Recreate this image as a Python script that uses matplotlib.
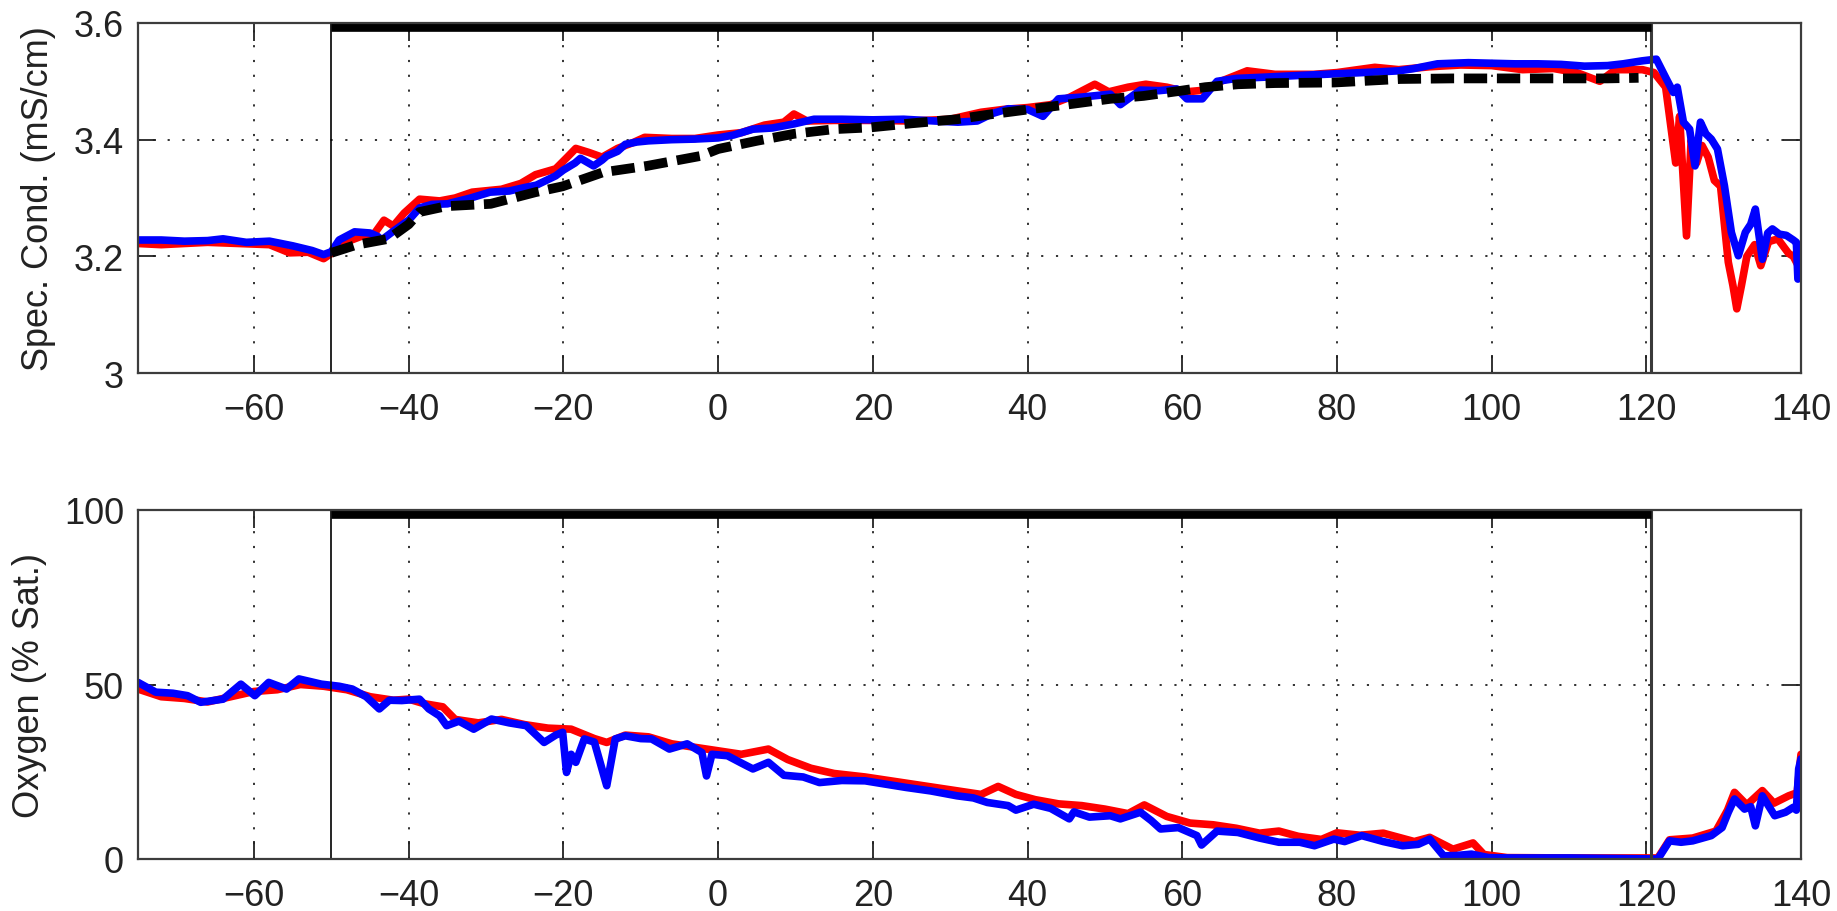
"""
Two-panel time series: specific conductance (top) and oxygen saturation (bottom).
Values read off the reference figure.
"""
import matplotlib
matplotlib.use('Agg')
import matplotlib.pyplot as plt

plt.rcParams['font.family'] = ['Liberation Sans', 'DejaVu Sans']

# ── Data: specific conductance (mS/cm) ───────────────────────────────────────
cond_blue_x = [-75, -72, -69, -66, -64, -61, -58, -55, -52.5, -51,
               -50, -49, -47, -45, -44, -43.5, -42, -40, -38.6, -37,
               -35, -32, -29.5, -27, -25, -23.5, -21, -20, -18.5, -17.8,
               -16.1, -15, -14.4, -13, -12, -10.5, -9, -6, -3, 0,
               2, 4.5, 7, 9.8, 12.4, 16, 20, 24, 28, 31,
               33.5, 35.5, 37.5, 40, 42, 44, 47, 50.7, 52, 54.6,
               57, 59.3, 60.6, 62.6, 64.5, 67, 70.4, 75, 80, 85,
               88, 90, 93, 97, 100, 103, 106, 109, 112, 115,
               117, 119.4, 121.3, 122.6, 123.5, 124, 124.8, 125.6, 126.3, 127,
               127.7, 128.4, 129.2, 130.1, 131, 131.9, 132.8, 133.5, 134.1, 135,
               135.7, 136.3, 137.2, 138.1, 139, 139.4, 139.6, 140]
cond_blue = [3.228, 3.228, 3.226, 3.227, 3.230, 3.224, 3.226, 3.218, 3.210, 3.203,
             3.208, 3.228, 3.242, 3.240, 3.234, 3.228, 3.243, 3.262, 3.283, 3.289,
             3.290, 3.300, 3.310, 3.312, 3.318, 3.322, 3.338, 3.348, 3.360, 3.368,
             3.355, 3.365, 3.372, 3.380, 3.392, 3.396, 3.398, 3.400, 3.401, 3.403,
             3.408, 3.418, 3.420, 3.427, 3.435, 3.435, 3.434, 3.435, 3.432, 3.430,
             3.432, 3.445, 3.453, 3.452, 3.440, 3.470, 3.473, 3.478, 3.460, 3.485,
             3.484, 3.487, 3.470, 3.470, 3.500, 3.505, 3.507, 3.510, 3.513, 3.516,
             3.518, 3.522, 3.530, 3.532, 3.531, 3.530, 3.530, 3.529, 3.526, 3.527,
             3.530, 3.535, 3.538, 3.504, 3.481, 3.490, 3.430, 3.418, 3.355, 3.430,
             3.410, 3.401, 3.384, 3.321, 3.241, 3.201, 3.241, 3.255, 3.281, 3.195,
             3.240, 3.247, 3.238, 3.236, 3.228, 3.224, 3.161, 3.165]

cond_red_x = [-75, -72, -69, -66, -62, -58, -55.4, -53, -51, -50,
              -48, -46, -44.5, -43.2, -42, -40.6, -38.6, -36, -34, -31.8,
              -28, -25.5, -23.6, -21, -19.5, -18.4, -16.7, -15, -13, -11,
              -9.5, -6, -3, 0, 3, 6, 8.5, 9.8, 11.5, 15,
              20, 25, 30, 34, 37, 40, 43, 45.5, 48.7, 50.5,
              53, 55.3, 58, 60.5, 63, 65, 68.4, 72, 77, 80,
              84.9, 88, 92, 96, 100, 104, 108, 111, 114, 116,
              119.5, 121, 122.5, 123.8, 124.3, 125.2, 125.8, 126.5, 127.2, 128,
              128.8, 129.6, 130.6, 131.2, 131.7, 132.3, 133, 134, 134.8, 135.8,
              137, 138.4, 139, 139.8, 140]
cond_red = [3.222, 3.220, 3.222, 3.224, 3.222, 3.220, 3.206, 3.207, 3.196, 3.205,
            3.225, 3.235, 3.238, 3.262, 3.252, 3.274, 3.298, 3.295, 3.300, 3.310,
            3.315, 3.325, 3.340, 3.350, 3.370, 3.385, 3.378, 3.370, 3.385, 3.395,
            3.404, 3.402, 3.402, 3.408, 3.412, 3.425, 3.430, 3.444, 3.432, 3.433,
            3.433, 3.432, 3.435, 3.447, 3.452, 3.455, 3.460, 3.473, 3.495, 3.482,
            3.490, 3.495, 3.490, 3.482, 3.485, 3.500, 3.518, 3.512, 3.512, 3.515,
            3.524, 3.520, 3.525, 3.528, 3.527, 3.520, 3.522, 3.515, 3.500, 3.520,
            3.520, 3.515, 3.490, 3.360, 3.440, 3.235, 3.400, 3.360, 3.390, 3.370,
            3.330, 3.320, 3.190, 3.150, 3.110, 3.150, 3.200, 3.220, 3.184, 3.225,
            3.230, 3.205, 3.200, 3.180, 3.190]

cond_ref_x = [-50, -46.7, -42.6, -40, -38.6, -35.1, -29.4, -23.6, -20.1, -14.9,
              -9.2, -2.3, 0, 5, 9.8, 15, 19.7, 25, 30.9, 35,
              40.8, 45, 50.7, 55, 59.9, 63, 67.2, 72, 79.7, 88.2,
              95, 100, 105, 110, 115, 119]
cond_ref = [3.206, 3.220, 3.230, 3.255, 3.276, 3.286, 3.290, 3.310, 3.320, 3.344,
            3.355, 3.372, 3.384, 3.398, 3.410, 3.418, 3.421, 3.428, 3.435, 3.443,
            3.453, 3.460, 3.470, 3.475, 3.484, 3.490, 3.495, 3.497, 3.498, 3.504,
            3.505, 3.505, 3.505, 3.505, 3.505, 3.506]

# ── Data: oxygen (% saturation) ──────────────────────────────────────────────
oxy_blue_x = [-75, -72.7, -70.5, -68.6, -66.9, -64, -61.7, -59.9, -58.1, -55.8,
              -54.2, -51.3, -49, -47.3, -45.5, -43.8, -42.5, -40.9, -38.6, -37.4,
              -36, -35.1, -33.5, -31.6, -29.3, -27, -24.8, -22.5, -21, -20.1,
              -19.6, -19, -18.4, -17.3, -16, -14.4, -13.3, -12, -10, -8.6,
              -6.3, -4, -2.1, -1.5, -0.8, 1.2, 3, 4.5, 6.5, 8.5,
              11, 13.1, 16, 19, 21.5, 24.3, 27.5, 30.9, 33, 34.8,
              37.5, 38.5, 40.8, 43, 45.4, 46, 48, 50.7, 52, 54.6,
              56, 57.2, 59.5, 61.9, 62.5, 64.5, 67.2, 70, 72.5, 75.2,
              77.1, 79.6, 81, 83.2, 86, 88.5, 90.5, 92, 93.8, 95.5,
              97.4, 99.6, 102, 110, 121.5, 123, 124.5, 126, 128.4, 129.8,
              130.6, 131.4, 132.7, 133.5, 134.1, 135, 136.6, 138, 139, 139.4,
              139.7, 140]
oxy_blue = [50.6, 47.8, 47.5, 46.8, 44.9, 45.8, 50.1, 46.8, 50.6, 48.7,
            51.6, 50.1, 49.5, 48.7, 46.5, 43.0, 45.5, 45.4, 45.8, 43.0,
            41.0, 38.2, 39.5, 37.2, 40.1, 39.0, 38.2, 33.4, 35.5, 36.3,
            24.8, 30.0, 27.7, 34.4, 33.5, 21.0, 34.4, 35.3, 34.5, 34.4,
            31.5, 33.0, 30.5, 23.8, 30.0, 29.6, 27.5, 25.8, 27.7, 24.0,
            23.5, 21.9, 22.5, 22.4, 21.5, 20.5, 19.5, 18.1, 17.5, 16.2,
            15.3, 14.0, 15.7, 14.5, 11.5, 13.5, 12.0, 12.4, 11.5, 13.4,
            11.0, 8.6, 9.0, 6.7, 4.0, 8.0, 7.6, 6.0, 4.8, 4.8,
            3.8, 5.7, 5.0, 6.7, 5.0, 3.8, 4.2, 5.7, 0.9, 1.0,
            1.4, 0.4, 0.3, 0.3, 0.0, 5.2, 4.8, 5.2, 6.7, 9.0,
            13.4, 17.2, 14.3, 15.0, 9.5, 18.1, 12.4, 13.4, 14.8, 14.0,
            25.8, 28.7]

oxy_red_x = [-75, -72, -69, -66, -63, -60, -57, -54, -51, -48,
             -45, -42, -40, -38, -35.6, -34, -31, -28, -25, -22,
             -19, -16, -14.4, -12, -9, -6, -3, 0, 3, 6.5,
             9, 12, 15, 19, 22, 25, 28, 31, 34, 36.2,
             38.5, 41, 44, 47, 50, 53, 55.1, 58, 61, 64,
             67, 70, 72.5, 75, 78, 80, 83, 86, 90, 92,
             95, 97.6, 99, 102, 110, 121.5, 123, 126, 129, 130.5,
             131.4, 133, 135, 136.5, 138.4, 139.5, 140]
oxy_red = [48.7, 46.5, 46.0, 45.0, 46.5, 48.0, 48.5, 50.0, 49.5, 48.5,
           46.5, 45.5, 45.8, 44.5, 43.6, 40.0, 39.0, 40.0, 38.5, 37.5,
           37.2, 34.5, 33.4, 35.5, 35.0, 33.0, 32.0, 31.0, 30.0, 31.5,
           28.5, 26.0, 24.5, 23.5, 22.5, 21.5, 20.5, 19.5, 18.5, 20.8,
           18.5, 17.0, 15.8, 15.3, 14.3, 13.0, 15.5, 12.2, 10.3, 9.8,
           8.8, 7.4, 8.0, 6.5, 5.6, 7.5, 6.8, 7.4, 5.0, 6.2,
           2.8, 4.6, 1.3, 0.4, 0.3, 0.3, 5.5, 6.0, 8.0, 14.0,
           19.1, 15.5, 19.6, 16.0, 18.1, 19.0, 30.0]

x_ticks = [-60, -40, -20, 0, 20, 40, 60, 80, 100, 120, 140]
cond_ticks = [3.0, 3.2, 3.4, 3.6]
cond_tick_labels = ['3', '3.2', '3.4', '3.6']
oxy_ticks = [0, 50, 100]

# ── Figure ───────────────────────────────────────────────────────────────────
W, H = 1837, 912
fig = plt.figure(figsize=(W / 100, H / 100), dpi=100)
ax1 = fig.add_axes([138 / W, 1 - 374 / H, 1663 / W, 350 / H])
ax2 = fig.add_axes([138 / W, 1 - 860 / H, 1663 / W, 349 / H])

GRID_LS = (0, (1.2, 7))
LINE_LW = 5.5


def style_axes(ax, yticks, ylabels, ylabel, label_x):
    ax.set_xlim(-75, 140)
    ax.set_xticks(x_ticks)
    ax.set_yticks(yticks)
    ax.set_yticklabels(ylabels)
    ax.grid(True, linestyle=GRID_LS, color='#222222', lw=1.3)
    ax.set_axisbelow(True)
    ax.tick_params(direction='in', length=13, width=1.3, top=True, right=True,
                   labelsize=26, pad=10, color='#222222', labelcolor='#222222')
    ax.tick_params(axis='x', pad=14)
    for sp in ax.spines.values():
        sp.set_color('#3c3c3c')
        sp.set_linewidth(1.6)
        sp.set_zorder(6)
    ax.set_ylabel(ylabel, fontsize=26, color='#222222', va='center')
    ax.yaxis.set_label_coords(label_x, 0.5)
    # event markers: start line, end line, bar along the top
    ax.axvline(-50, color='k', lw=1.2, zorder=4)
    ax.axvline(120.6, color='#3a3a3a', lw=2.2, zorder=4)
    ax.plot([-50, 120.6], [1, 1], transform=ax.get_xaxis_transform(),
            color='k', lw=12, solid_capstyle='butt', clip_on=True, zorder=5)


# Top panel
ax1.plot(cond_red_x, cond_red, color='#ff0000', lw=LINE_LW, zorder=2,
         solid_joinstyle='round', solid_capstyle='round')
ax1.plot(cond_blue_x, cond_blue, color='#0000ff', lw=LINE_LW, zorder=3,
         solid_joinstyle='round', solid_capstyle='round')
ax1.plot(cond_ref_x, cond_ref, color='k', lw=7, zorder=3.5,
         dashes=(2.4, 1.0), dash_capstyle='butt')
ax1.set_ylim(3.0, 3.6)
style_axes(ax1, cond_ticks, cond_tick_labels, 'Spec. Cond. (mS/cm)', -0.060)

# Bottom panel
ax2.plot(oxy_red_x, oxy_red, color='#ff0000', lw=LINE_LW, zorder=2,
         solid_joinstyle='round', solid_capstyle='round')
ax2.plot(oxy_blue_x, oxy_blue, color='#0000ff', lw=LINE_LW, zorder=3,
         solid_joinstyle='round', solid_capstyle='round')
ax2.set_ylim(0, 100)
style_axes(ax2, oxy_ticks, [str(t) for t in oxy_ticks], 'Oxygen (% Sat.)', -0.0655)

fig.savefig('out.png', dpi=100)
plt.close(fig)
